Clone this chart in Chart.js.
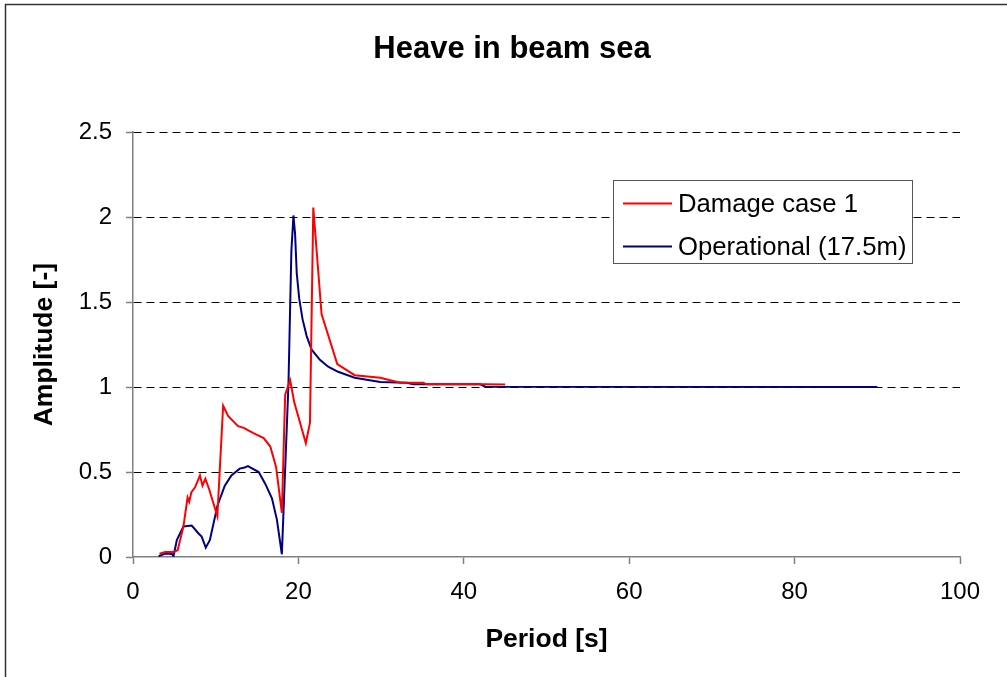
<!DOCTYPE html>
<html>
<head>
<meta charset="utf-8">
<script src="https://cdn.jsdelivr.net/npm/chart.js@4/dist/chart.umd.min.js"></script>
<style>
  html, body { margin: 0; padding: 0; background: #fff; }
  #wrap { width: 1007px; height: 677px; }
</style>
</head>
<body>
<div id="wrap"><canvas id="chart-heave"></canvas></div>
<script>
// Heave in beam sea - amplitude vs period

const damagePeriod = [3.2, 3.9, 4.9, 5.4, 6.1, 6.6, 6.8, 7.05, 7.5, 8.1, 8.4, 8.75, 9.2, 10.2, 10.9, 11.5, 12.7, 13.4, 14.5, 15.8, 16.6, 17.3, 18.0, 18.4, 19.0, 19.5, 20.2, 20.9, 21.4, 21.8, 22.8, 24.7, 26.8, 29.9, 32.3, 35.1, 35.5, 42.0, 42.5, 45.0];
const damageAmp    = [0.02, 0.03, 0.03, 0.04, 0.18, 0.35, 0.325, 0.38, 0.41, 0.48, 0.42, 0.46, 0.40, 0.24, 0.89, 0.83, 0.77, 0.76, 0.73, 0.70, 0.65, 0.53, 0.26, 0.955, 1.04, 0.91, 0.79, 0.67, 0.79, 2.057, 1.43, 1.135, 1.07, 1.055, 1.025, 1.025, 1.016, 1.016, 1.016, 1.015];

const operPeriod = [3.1, 3.9, 4.7, 4.9, 5.3, 6.1, 7.1, 7.9, 8.3, 8.8, 9.3, 10.2, 11.1, 11.9, 12.9, 13.5, 13.9, 15.2, 16.0, 16.8, 17.4, 18.0, 18.8, 19.15, 19.4, 19.6, 19.8, 20.1, 20.5, 21.0, 21.6, 22.6, 23.6, 24.8, 26.8, 29.9, 33.1, 33.9, 42.0, 42.6, 90.0];
const operAmp    = [0.005, 0.02, 0.018, 0.005, 0.10, 0.18, 0.185, 0.14, 0.12, 0.055, 0.10, 0.30, 0.42, 0.48, 0.52, 0.527, 0.535, 0.50, 0.43, 0.345, 0.22, 0.016, 1.02, 1.8, 2.01, 1.9, 1.67, 1.52, 1.40, 1.30, 1.22, 1.16, 1.12, 1.09, 1.055, 1.03, 1.025, 1.016, 1.016, 1.002, 1.0];

const seriesNames = ['Damage case 1', 'Operational (17.5m)'];
const xTicks = [0, 20, 40, 60, 80, 100];
const yTicks = [0, 0.5, 1, 1.5, 2, 2.5];

const FONT = '"Liberation Sans", Arial, sans-serif';
const toPoints = (xs, ys) => xs.map((x, i) => ({ x: x, y: ys[i] }));

// frame around the whole picture + legend box inside the plot
const framePlugin = {
    id: 'frame',
    afterDraw(chart) {
        const ctx = chart.ctx;
        ctx.save();
        ctx.setLineDash([]);
        ctx.strokeStyle = '#333';
        ctx.lineWidth = 1.5;
        ctx.beginPath();
        ctx.moveTo(5.5, 700);
        ctx.lineTo(5.5, 4.5);
        ctx.lineTo(1020, 4.5);
        ctx.stroke();

        // legend
        const bx = 613.5, by = 180.5, bw = 299, bh = 83;
        ctx.fillStyle = '#fff';
        ctx.fillRect(bx, by, bw, bh);
        ctx.strokeStyle = '#555';
        ctx.lineWidth = 1;
        ctx.strokeRect(bx, by, bw, bh);
        ctx.font = '25.7px ' + FONT;
        ctx.textBaseline = 'middle';
        chart.data.datasets.forEach((ds, i) => {
            const y = 203.5 + i * 43;
            ctx.strokeStyle = ds.borderColor;
            ctx.lineWidth = 2;
            ctx.beginPath();
            ctx.moveTo(623, y);
            ctx.lineTo(672, y);
            ctx.stroke();
            ctx.fillStyle = '#000';
            ctx.fillText(ds.label, 678, y + 1);
        });
        ctx.restore();
    }
};

const ctx = document.getElementById('chart-heave').getContext('2d');
new Chart(ctx, {
    type: 'line',
    data: {
        datasets: [{
            label: seriesNames[0],
            data: toPoints(damagePeriod, damageAmp),
            borderColor: '#ff0000',
            borderWidth: 2,
            pointRadius: 0,
            fill: false,
            tension: 0
        }, {
            label: seriesNames[1],
            data: toPoints(operPeriod, operAmp),
            borderColor: '#000080',
            borderWidth: 2,
            pointRadius: 0,
            fill: false,
            tension: 0
        }]
    },
    options: {
        responsive: true,
        maintainAspectRatio: false,
        animation: false,
        events: [],
        layout: { padding: { left: 17, right: 0, top: 0, bottom: 0 } },
        plugins: {
            legend: { display: false },
            tooltip: { enabled: false },
            title: {
                display: true,
                text: 'Heave in beam sea',
                color: '#000',
                font: { family: FONT, size: 31, weight: 'bold' },
                padding: { top: 31, bottom: 64 }
            }
        },
        scales: {
            x: {
                type: 'linear',
                min: 0,
                max: 100,
                afterBuildTicks: (axis) => { axis.ticks = xTicks.map(v => ({ value: v })); },
                afterFit: (axis) => { axis.height = 120; },
                border: { display: true, color: '#808080', width: 1.5 },
                grid: { drawOnChartArea: false, drawTicks: true, tickLength: 7, tickColor: '#808080', tickWidth: 1.5 },
                ticks: { color: '#000', padding: 14, maxRotation: 0, font: { family: FONT, size: 24 } },
                title: {
                    display: true,
                    text: 'Period [s]',
                    color: '#000',
                    font: { family: FONT, size: 26.5, weight: 'bold' },
                    padding: { top: 0, bottom: 21 }
                }
            },
            y: {
                type: 'linear',
                min: 0,
                max: 2.5,
                afterBuildTicks: (axis) => { axis.ticks = yTicks.map(v => ({ value: v })); },
                afterFit: (axis) => { axis.width = 116; },
                border: { display: true, color: '#808080', width: 1.5, dash: [8, 5] },
                grid: {
                    color: (c) => (c.tick && c.tick.value === 0) ? 'rgba(0,0,0,0)' : '#000',
                    lineWidth: 1,
                    drawTicks: true,
                    tickLength: 7,
                    tickColor: '#808080',
                    tickWidth: 1.5,
                    tickBorderDash: []
                },
                ticks: {
                    color: '#000',
                    padding: 14,
                    font: { family: FONT, size: 24 },
                    callback: (v) => String(v)
                },
                title: {
                    display: true,
                    text: 'Amplitude [-]',
                    color: '#000',
                    font: { family: FONT, size: 26.5, weight: 'bold' },
                    padding: { top: 12, bottom: 0 }
                }
            },
            // empty right-hand axis that only reserves space beside the plot
            y2: {
                type: 'linear',
                position: 'right',
                min: 0,
                max: 2.5,
                afterFit: (axis) => { axis.width = 47; },
                border: { display: false },
                grid: { display: false },
                ticks: { display: false }
            }
        }
    },
    plugins: [framePlugin]
});
</script>
</body>
</html>
